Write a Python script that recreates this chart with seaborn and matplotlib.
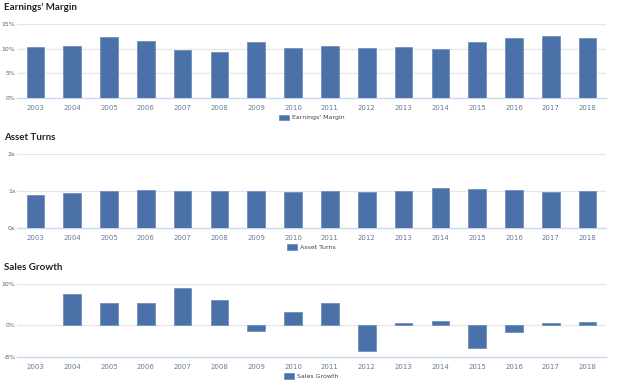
import numpy as np
import pandas as pd
import matplotlib
matplotlib.use("Agg")
import matplotlib.pyplot as plt
import seaborn as sns

years = [str(y) for y in range(2003, 2019)]
earnings_margin = [10.4, 10.6, 12.3, 11.6, 9.7, 9.3, 11.4, 10.1,
                   10.6, 10.2, 10.4, 10.0, 11.4, 12.1, 12.6, 12.1]
asset_turns = [0.89, 0.95, 1.01, 1.03, 1.01, 1.01, 1.01, 0.98,
               1.01, 0.98, 0.99, 1.09, 1.05, 1.03, 0.96, 0.99]
sales_growth = [np.nan, 7.5, 5.3, 5.2, 9.0, 6.1, -1.5, 3.1,
                5.3, -6.6, 0.5, 0.8, -5.7, -1.7, 0.3, 0.6]

sns.set_style("white")
plt.rcParams['font.family'] = ['DejaVu Sans']

BAR = "#4a72a8"
GRID = "#e6e6e6"
AXIS = "#ccd6eb"

fig = plt.figure(figsize=(6.24, 3.89), dpi=100)

panels = [
    ("Earnings' Margin", earnings_margin, (0, 15), [0, 5, 10, 15], "{:g}%", [0.748, 0.190]),
    ("Asset Turns", asset_turns, (0, 2), [0, 1, 2], "{:g}x", [0.414, 0.190]),
    ("Sales Growth", sales_growth, (-8, 10), [-8, 0, 10], "{:g}%", [0.082, 0.188]),
]

for title, vals, ylim, yticks, fmt, (bottom, height) in panels:
    ax = fig.add_axes([0.0272, bottom, 0.944, height])
    df = pd.DataFrame({"year": years, "value": vals})
    sns.barplot(data=df, x="year", y="value", color=BAR, width=0.48,
                saturation=1, edgecolor="#6f90bd", linewidth=0.6,
                label=title, ax=ax, zorder=3)
    ax.set_ylim(*ylim)
    ax.set_xlim(-0.5, len(years) - 0.5)
    ax.set_yticks(yticks)
    ax.set_yticklabels([fmt.format(t) for t in yticks], fontsize=4.5, color="#606060")
    for t in yticks:
        if t != ylim[0]:
            ax.axhline(t, color=GRID, lw=0.9, zorder=1)
    for s in ["top", "right", "left"]:
        ax.spines[s].set_visible(False)
    ax.spines["bottom"].set_color(AXIS)
    ax.spines["bottom"].set_linewidth(1.0)
    ax.set_xticks(range(len(years)))
    ax.set_xticklabels(years, fontsize=5, color="#6b7a95")
    ax.tick_params(axis="x", length=0, pad=5)
    ax.tick_params(axis="y", length=0, pad=1)
    ax.set_xticks(np.arange(-0.5, len(years)), minor=True)
    ax.tick_params(axis="x", which="minor", length=4, color=AXIS, width=0.8, direction="out")
    ax.set_xlabel("")
    ax.set_ylabel("")
    ax.text(-0.022, 1.23, title, transform=ax.transAxes, fontsize=7,
            fontweight="bold", family=["Lato", "DejaVu Sans"], color="#222222",
            ha="left", va="center")
    ax.legend(loc="upper center", bbox_to_anchor=(0.5, -0.19), frameon=False,
              fontsize=4.5, handlelength=1.6, handleheight=0.9, labelcolor="#444444",
              handletextpad=0.5, borderaxespad=0)

fig.savefig("out.png", dpi=100)
